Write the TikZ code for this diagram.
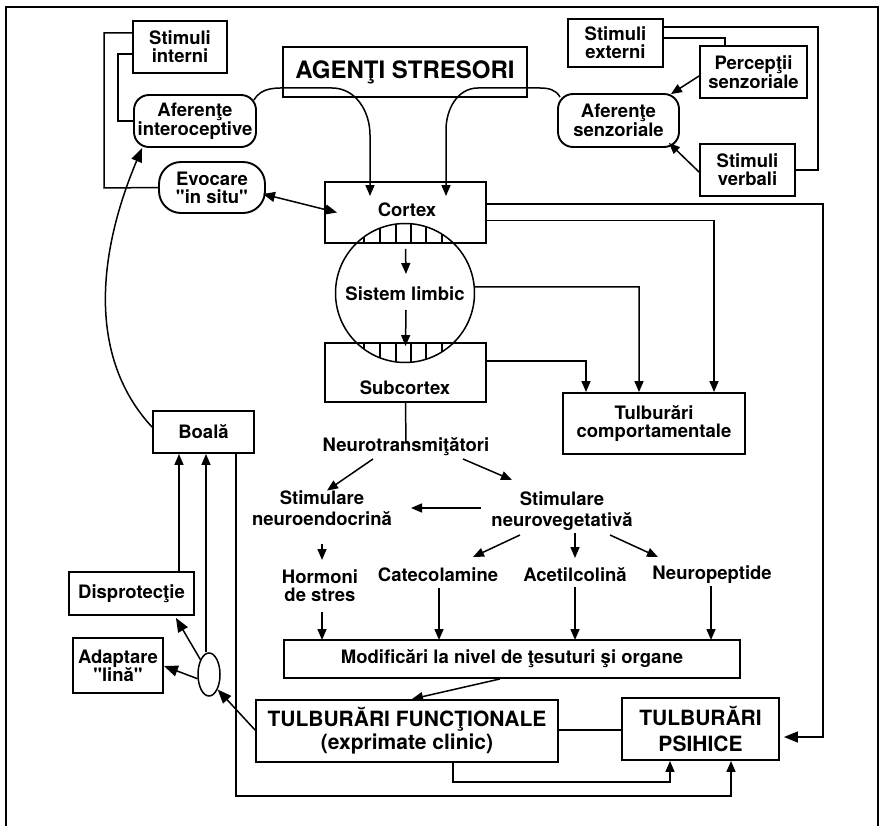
\documentclass[tikz,border=0pt]{standalone}
\usepackage{fontspec}
\setmainfont{TeX Gyre Heros}[Ligatures=TeXOff]
\usetikzlibrary{arrows.meta,shapes.geometric}
\begin{document}
\begin{tikzpicture}[x=1pt,y=-1pt,
  base/.style={font=\fontsize{18.5}{18}\selectfont\bfseries},
  box/.style={draw, line width=1.9pt, align=center, inner sep=0pt, base},
  rbox/.style={box, rounded corners=#1},
  lbl/.style={align=center, inner sep=0pt, base},
  wide/.style={font=\fontsize{18.5}{20.5}\selectfont\bfseries},
  conn/.style={line width=1.5pt},
  arr/.style={conn, -{Triangle[length=11pt,width=9pt]}},
  barr/.style={conn, -{Triangle[length=14pt,width=11pt]}},
  darr/.style={conn, {Triangle[length=12pt,width=10pt]}-{Triangle[length=12pt,width=10pt]}},
  hatch/.style={line width=1.1pt},
  frame/.style={line width=1.3pt}]

% page and outer frame
\fill[white] (0,0) rectangle (879,826);
\useasboundingbox (0,0) rectangle (879,826);
\draw[frame] (6,826) -- (6,7) -- (878,7) -- (878,826);

% ---------- upper part: stressors and afferents ----------
\node[box, minimum width=94pt, minimum height=52pt] (stimint) at (180,47) {Stimuli\\interni};
\node[rbox=15pt, minimum width=122pt, minimum height=52pt] (aferint) at (195,121) {Aferenţe\\interoceptive};
\node[rbox=22pt, minimum width=106pt, minimum height=51pt] (evocare) at (212,187.5) {Evocare\\"in situ"};
\node[box, minimum width=244pt, minimum height=50pt, font=\fontsize{24}{24}\selectfont\bfseries] (agenti) at (405,72) {AGENŢI STRESORI};
\node[box, minimum width=95pt, minimum height=48pt] (stimext) at (615.5,43) {Stimuli\\externi};
\node[box, minimum width=107pt, minimum height=52pt] (percep) at (753.5,72) {Percepţii\\senzoriale};
\node[rbox=15pt, minimum width=121pt, minimum height=53pt] (aferenz) at (618.5,120.5) {Aferenţe\\senzoriale};
\node[box, minimum width=95pt, minimum height=52pt] (stimverb) at (747.5,170) {Stimuli\\verbali};

% ---------- cortex, limbic system, subcortex ----------
\node[box, minimum width=161pt, minimum height=61pt] (cortex) at (405.5,212.5) {};
\node[lbl] (cortext) at (407,210) {Cortex};
\node[box, minimum width=161pt, minimum height=59pt] (subcortex) at (405.5,372.5) {};
\node[lbl] (subtext) at (405,388) {Subcortex};
\node[draw, circle, line width=1.5pt, minimum size=139pt, inner sep=0pt] (limbic) at (405,293) {};
\node[lbl] (limtext) at (405,294) {Sistem limbic};
\begin{scope}
  \clip (405,293) circle (69.5pt);
  \foreach \x in {364,380,396,411,426,442} {
    \draw[hatch] (\x,215) -- (\x,243);
    \draw[hatch] (\x,343) -- (\x,372);
  }
\end{scope}

\node[box, minimum width=182pt, minimum height=61pt] (tulbcomp) at (654,423.5) {Tulburări\\comportamentale};

% ---------- neurochemical chain ----------
\node[lbl] (neuro) at (406,447) {Neurotransmiţători};
\node[lbl, wide] (endo) at (322,508) {Stimulare\\neuroendocrină};
\node[lbl, wide] (veg) at (562,511) {Stimulare\\neurovegetativă};
\node[lbl] (horm) at (320,586) {Hormoni\\de stres};
\node[lbl] (cate) at (438,575) {Catecolamine};
\node[lbl] (acet) at (575,575) {Acetilcolină};
\node[lbl] (pept) at (712,575) {Neuropeptide};
\node[box, minimum width=456pt, minimum height=38pt] (modif) at (512,659) {Modificări la nivel de ţesuturi şi organe};
\node[box, minimum width=302pt, minimum height=62pt, font=\fontsize{21}{23}\selectfont\bfseries] (tulbfunc) at (407,731) {TULBURĂRI FUNCŢIONALE\\(exprimate clinic)};
\node[box, minimum width=157pt, minimum height=62pt, font=\fontsize{21}{26}\selectfont\bfseries] (tulbpsih) at (700.5,729) {TULBURĂRI\\PSIHICE};

% ---------- left branch: outcomes ----------
\node[box, minimum width=101pt, minimum height=42pt] (boala) at (203.5,432) {Boală};
\node[box, minimum width=125pt, minimum height=43pt] (disprot) at (131.5,593.5) {Disprotecţie};
\node[box, minimum width=90pt, minimum height=55pt] (adapt) at (118,665.5) {Adaptare\\"lină"};
\node[draw, ellipse, line width=1.5pt, minimum width=22pt, minimum height=43pt, inner sep=0pt] (oval) at (209,674.5) {};

% ---------- connectors: upper part ----------
\draw[conn] ([yshift=14pt]stimint.west) -| (104,188) -- (evocare.west);
\draw[conn] ([yshift=-7pt]stimint.west) -| (118,121) -- (aferint.west);
\draw[conn] ([yshift=16pt]stimext.east) -| (818,170) -- (stimverb.east);
\draw[conn] ([yshift=5pt]stimext.east) -| ([xshift=-28.5pt]percep.north);
\draw[arr] ([yshift=-4pt]percep.west) -- ([xshift=-9pt,yshift=-1pt]aferenz.north east);
\draw[arr] ([yshift=-2pt]stimverb.west) -- ([xshift=-11pt,yshift=5pt]aferenz.south east);
\draw[arr] ([xshift=-3pt,yshift=-6pt]aferint.north east) to[out=60,in=180] (292,88)
  -- (332,88) to[out=0,in=90] (370,135) -- ([xshift=-35.5pt,yshift=-15pt]cortex.north);
\draw[arr] ([xshift=3pt,yshift=-4pt]aferenz.north west) to[out=120,in=0] (540,88)
  -- (478,88) to[out=180,in=90] (446,130) -- ([xshift=40.5pt,yshift=-15pt]cortex.north);
\draw[darr] ([xshift=-3pt,yshift=-6.5pt]evocare.east) -- ([xshift=13pt]cortex.west);

% ---------- connectors: cortex and limbic system ----------
\draw[arr] ([yshift=-5pt]cortex.south) -- (406,274);
\draw[arr] (406,310) -- ([yshift=-4pt]subcortex.north);
\draw[barr] ([yshift=8.5pt]cortex.east) -- (823,204) -- (823,737) -- ([xshift=4pt,yshift=-8pt]tulbpsih.east);
\draw[arr] ([yshift=-8pt]cortex.east) -- (714,220.5) -- ([xshift=60pt]tulbcomp.north);
\draw[arr] (limbic.5) -- (639,287) -- ([xshift=-15pt]tulbcomp.north);
\draw[arr] ([yshift=11.5pt]subcortex.east) -- (586,361) -- ([xshift=-68pt]tulbcomp.north);

% ---------- connectors: neurochemical chain ----------
\draw[conn] (subcortex.south) -- ([yshift=-6pt]neuro.north);
\draw[arr] (373,459) -- (endo.north -| 327,0);
\draw[arr] (463,459) -- (512,480);
\draw[arr] (481,508) -- (411,508);
\draw[arr] (322,544) -- (322,560);
\draw[arr] (520,535) -- (473,557);
\draw[arr] (575,533) -- (575,558);
\draw[arr] (610,535) -- (658,557);
\draw[arr] (322,612) -- (322,640);
\draw[arr] (439,588) -- (439,640);
\draw[arr] (575,587) -- (575,640);
\draw[arr] (711,586) -- (711,640);
\draw[arr] ([xshift=-12pt]modif.south) -- ([xshift=5pt]tulbfunc.north);
\draw[conn] (tulbfunc.east |- 0,730) -- (tulbpsih.west |- 0,730);
\draw[arr] ([xshift=46pt]tulbfunc.south) -- (453,782) -- (670,782) -- ([xshift=-30.5pt]tulbpsih.south);
\draw[arr] ([xshift=32.5pt]boala.south) -- (236,796) -- (731,796) -- ([xshift=30.5pt]tulbpsih.south);

% ---------- connectors: left branch ----------
\draw[barr] ([yshift=-17pt]boala.north west) .. controls (90,360) and (95,260) .. ([xshift=9pt]aferint.south west);
\draw[arr] (179,572) -- ([xshift=-24.5pt]boala.south);
\draw[arr] (oval.north -| 206,0) -- ([xshift=2.5pt]boala.south);
\draw[barr] (oval.120) -- ([xshift=-19pt,yshift=-2pt]disprot.south east);
\draw[barr] (oval.200) -- ([yshift=-0.5pt]adapt.east);
\draw[barr] ([yshift=1pt]tulbfunc.west) -- (oval.300);
\end{tikzpicture}
\end{document}
